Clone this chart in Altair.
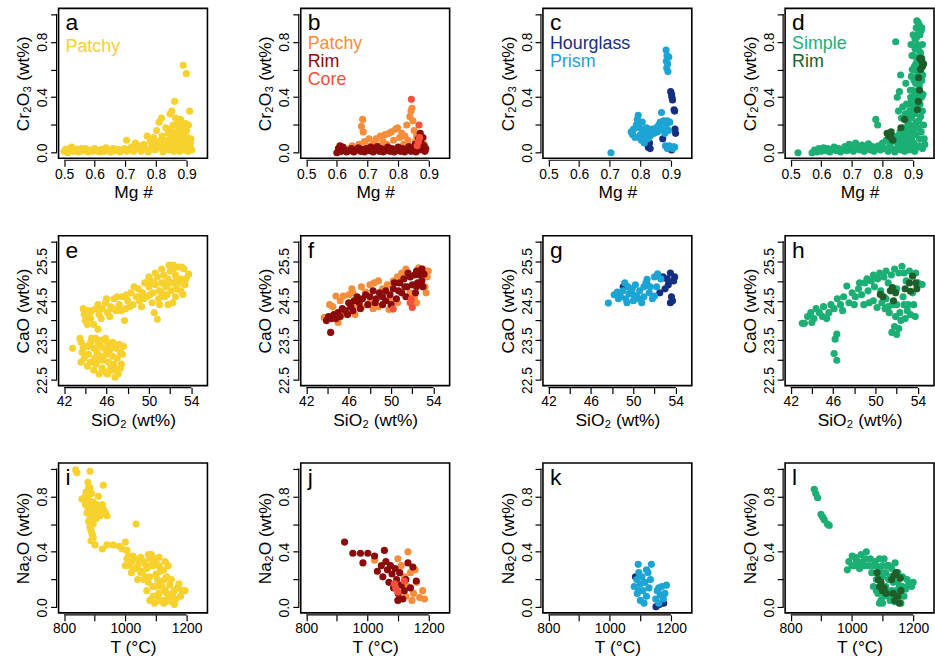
import json
import altair as alt
import pandas as pd

FONT = "Liberation Sans"
W, H = 150, 151
OFF = 2
PT = 52

YEL = "#F7D12E"
ORG = "#F68D3A"
DRED = "#8B0A0A"
CORE = "#F4503B"
NAVY = "#152F80"
LBLU = "#1CA4D4"
GRN = "#1BAF74"
DGRN = "#1E5E28"

# ---------------- axis definitions ----------------
mg_ticks = [0.5, 0.6, 0.7, 0.8, 0.9]
mg_labels = [0.5, 0.6, 0.7, 0.8, 0.9]
cr_ticks = [0.0, 0.2, 0.4, 0.6, 0.8, 1.0]
cr_labels = [0.0, 0.4, 0.8]
si_ticks = [42, 44, 46, 48, 50, 52, 54]
si_labels = [42, 46, 50, 54]
ca_ticks = [22.5, 23.0, 23.5, 24.0, 24.5, 25.0, 25.5, 26.0]
ca_labels = [22.5, 23.5, 24.5, 25.5]
t_ticks = [800, 900, 1000, 1100, 1200]
t_labels = [800, 1000, 1200]
na_ticks = [0.0, 0.2, 0.4, 0.6, 0.8, 1.0]
na_labels = [0.0, 0.4, 0.8]

AX_MG = dict(domain=[0.482, 0.968], ticks=mg_ticks, labels=mg_labels, fmt=".1f", title="Mg #")
AX_CR = dict(domain=[-0.04, 1.04], ticks=cr_ticks, labels=cr_labels, fmt=".1f", title="Cr₂O₃ (wt%)")
AX_SI = dict(domain=[41.48, 55.52], ticks=si_ticks, labels=si_labels, fmt=".0f", title="SiO₂ (wt%)")
AX_CA = dict(domain=[22.36, 26.14], ticks=ca_ticks, labels=ca_labels, fmt=".1f", title="CaO (wt%)")
AX_T = dict(domain=[782, 1268], ticks=t_ticks, labels=t_labels, fmt=".0f", title="T (°C)")
AX_NA = dict(domain=[-0.04, 1.04], ticks=na_ticks, labels=na_labels, fmt=".1f", title="Na₂O (wt%)")

# ---------------- data ----------------
a_patchy = [(0.500,0.010),(0.505,0.025),(0.512,0.000),(0.518,0.030),(0.525,0.040),(0.530,0.010),(0.540,0.025),(0.548,0.005),(0.556,0.030),(0.563,0.015),(0.570,0.030),(0.578,0.005),(0.585,0.020),(0.593,0.010),(0.600,0.030),(0.608,0.015),(0.615,0.005),(0.622,0.025),(0.630,0.010),(0.637,0.035),(0.645,0.015),(0.652,0.005),(0.660,0.030),(0.667,0.015),(0.675,0.025),(0.682,0.005),(0.690,0.020),(0.697,0.030),(0.704,0.090),(0.705,0.010),(0.712,0.025),(0.720,0.040),(0.727,0.010),(0.733,0.070),(0.740,0.030),(0.748,0.050),(0.752,0.010),(0.760,0.060),(0.766,0.030),(0.771,0.120),(0.775,0.005),(0.782,0.080),(0.786,0.040),(0.792,0.110),(0.797,0.020),(0.802,0.160),(0.804,0.060),(0.810,0.220),(0.812,0.035),(0.818,0.250),(0.820,0.120),(0.823,0.005),(0.828,0.080),(0.832,0.180),(0.836,0.040),(0.840,0.140),(0.843,0.020),(0.846,0.280),(0.849,0.100),(0.852,0.300),(0.853,0.060),(0.856,0.200),(0.858,0.010),(0.861,0.370),(0.862,0.150),(0.864,0.250),(0.866,0.040),(0.868,0.100),(0.871,0.210),(0.873,0.070),(0.876,0.180),(0.877,0.010),(0.880,0.240),(0.881,0.130),(0.884,0.050),(0.887,0.200),(0.889,0.630),(0.890,0.090),(0.892,0.020),(0.895,0.150),(0.897,0.210),(0.899,0.570),(0.900,0.060),(0.903,0.110),(0.905,0.010),(0.907,0.080),(0.910,0.300),(0.911,0.040),(0.914,0.100),(0.917,0.020),
            (0.826,0.050),(0.838,0.090),(0.845,0.170),(0.858,0.120),(0.870,0.150),(0.878,0.090),(0.885,0.170),(0.893,0.120),(0.900,0.160),(0.906,0.200),(0.912,0.070),(0.860,0.030),(0.872,0.040),(0.888,0.040),(0.815,0.090),(0.798,0.080)]

b_patchy = [(0.640,0.030),(0.650,0.050),(0.660,0.020),(0.672,0.060),(0.680,0.190),(0.684,0.240),(0.686,0.150),(0.690,0.080),(0.698,0.050),(0.705,0.100),(0.712,0.040),(0.720,0.070),(0.728,0.100),(0.735,0.050),(0.742,0.120),(0.750,0.080),(0.757,0.130),(0.763,0.060),(0.770,0.140),(0.778,0.150),(0.785,0.090),(0.792,0.170),(0.798,0.180),(0.805,0.110),(0.812,0.140),(0.818,0.060),(0.822,0.120),(0.828,0.200),(0.832,0.090),(0.838,0.260),(0.842,0.300),(0.845,0.320),(0.848,0.230),(0.852,0.160),(0.856,0.080),(0.860,0.120),(0.865,0.050),(0.872,0.090),(0.878,0.030),(0.885,0.060),(0.890,0.020)]
b_rim = [(0.600,0.000),(0.605,0.030),(0.610,0.050),(0.615,0.010),(0.620,0.040),(0.625,0.020),(0.632,0.005),(0.640,0.015),(0.648,0.030),(0.655,0.005),(0.662,0.020),(0.670,0.035),(0.677,0.010),(0.684,0.025),(0.690,0.005),(0.697,0.030),(0.704,0.015),(0.711,0.040),(0.718,0.005),(0.725,0.025),(0.732,0.045),(0.738,0.010),(0.745,0.030),(0.752,0.005),(0.759,0.020),(0.766,0.040),(0.773,0.010),(0.780,0.030),(0.787,0.005),(0.794,0.020),(0.800,0.040),(0.807,0.010),(0.814,0.030),(0.821,0.005),(0.828,0.025),(0.835,0.045),(0.842,0.010),(0.849,0.030),(0.855,0.060),(0.858,0.005),(0.862,0.040),(0.866,0.100),(0.869,0.020),(0.872,0.140),(0.875,0.070),(0.878,0.030),(0.881,0.110),(0.884,0.050),(0.887,0.010),(0.890,0.030)]
b_core = [(0.843,0.385),(0.868,0.200),(0.866,0.080),(0.862,0.050),(0.870,0.110)]

c_hourglass = [(0.826,0.040),(0.830,0.070),(0.832,0.030),(0.873,0.100),(0.899,0.440),(0.902,0.420),(0.903,0.400),(0.905,0.380),(0.910,0.310),(0.912,0.300),(0.913,0.170),(0.915,0.140),(0.908,0.040),(0.902,0.020),(0.895,0.030)]
c_prism = [(0.704,0.000),(0.770,0.150),(0.775,0.130),(0.778,0.170),(0.783,0.110),(0.787,0.200),(0.790,0.240),(0.793,0.270),(0.797,0.180),(0.800,0.130),(0.803,0.090),(0.806,0.220),(0.810,0.160),(0.813,0.070),(0.816,0.120),(0.820,0.180),(0.824,0.100),(0.828,0.150),(0.832,0.120),(0.838,0.170),(0.845,0.140),(0.852,0.180),(0.856,0.150),(0.860,0.200),(0.865,0.220),(0.869,0.290),(0.872,0.170),(0.876,0.230),(0.880,0.140),(0.884,0.190),(0.888,0.230),(0.892,0.160),(0.896,0.220),(0.884,0.740),(0.887,0.700),(0.885,0.660),(0.889,0.640),(0.886,0.610),(0.890,0.585),(0.893,0.690),(0.882,0.050),(0.888,0.030),(0.894,0.050),(0.900,0.040),(0.906,0.030),(0.912,0.040)]

d_simple = [(0.524,0.000),(0.570,0.000),(0.578,0.020),(0.585,0.005),(0.592,0.030),(0.600,0.010),(0.607,0.035),(0.614,0.015),(0.621,0.030),(0.628,0.005),(0.635,0.025),(0.642,0.040),(0.649,0.015),(0.656,0.030),(0.663,0.005),(0.670,0.025),(0.677,0.045),(0.684,0.015),(0.691,0.060),(0.698,0.030),(0.705,0.010),(0.712,0.070),(0.719,0.040),(0.726,0.020),(0.733,0.055),(0.740,0.010),(0.747,0.040),(0.754,0.065),(0.760,0.020),(0.767,0.045),(0.772,0.010),(0.778,0.240),(0.784,0.200),(0.786,0.050),(0.793,0.020),(0.800,0.070),(0.806,0.030),(0.812,0.090),(0.818,0.010),(0.824,0.060),(0.830,0.030),(0.836,0.120),(0.840,0.005),(0.843,0.800),(0.845,0.080),(0.848,0.400),(0.850,0.040),(0.852,0.300),(0.855,0.440),(0.857,0.150),(0.859,0.560),(0.860,0.020),(0.862,0.250),(0.864,0.090),(0.866,0.330),(0.868,0.050),(0.870,0.180),(0.872,0.010),(0.874,0.280),(0.876,0.500),(0.877,0.120),(0.880,0.060),(0.882,0.220),(0.884,0.020),(0.886,0.350),(0.888,0.150),(0.890,0.050),(0.891,0.450),(0.893,0.780),(0.894,0.250),(0.895,0.100),(0.897,0.600),(0.898,0.020),(0.899,0.360),(0.900,0.170),(0.901,0.700),(0.902,0.070),(0.903,0.520),(0.904,0.280),(0.905,0.010),(0.906,0.820),(0.907,0.420),(0.908,0.130),(0.909,0.640),(0.910,0.220),(0.911,0.830),(0.912,0.040),(0.913,0.330),(0.914,0.560),(0.915,0.900),(0.916,0.940),(0.917,0.180),(0.918,0.740),(0.920,0.480),(0.921,0.100),(0.922,0.850),(0.924,0.260),(0.926,0.880),(0.927,0.400),(0.928,0.680),(0.930,0.030),(0.931,0.560),
            (0.888,0.300),(0.890,0.200),(0.892,0.400),(0.894,0.550),(0.896,0.700),(0.898,0.450),(0.900,0.850),(0.902,0.320),(0.904,0.620),(0.906,0.750),(0.908,0.500),(0.910,0.900),(0.912,0.680),(0.914,0.780),(0.916,0.450),(0.918,0.230),(0.920,0.620),(0.922,0.350),(0.924,0.720),(0.926,0.150),(0.928,0.520),(0.930,0.300),(0.932,0.420),(0.934,0.200),(0.936,0.100),(0.938,0.060),(0.905,0.600),(0.895,0.380),(0.900,0.280),(0.910,0.400),(0.915,0.650),(0.920,0.050),(0.925,0.580),(0.930,0.780),(0.928,0.900),(0.920,0.920),(0.912,0.950),(0.918,0.860),(0.924,0.400),(0.904,0.180),(0.896,0.120),(0.886,0.080),(0.880,0.160),(0.874,0.070),(0.868,0.130),(0.862,0.100),(0.856,0.060),(0.850,0.120),(0.884,0.270),(0.878,0.350)]
d_rim = [(0.815,0.140),(0.820,0.120),(0.826,0.130),(0.830,0.100),(0.834,0.090),(0.828,0.150),(0.860,0.180),(0.872,0.240),(0.914,0.310),(0.917,0.370),(0.921,0.450),(0.918,0.540),(0.924,0.600),(0.928,0.660),(0.922,0.680),(0.934,0.640),(0.930,0.620),(0.926,0.680)]

e_patchy = [(42.8,23.30),(43.5,23.55),(43.6,23.45),(43.7,23.20),(43.6,22.95),(43.9,23.05),(44.2,22.85),(44.0,23.35),(44.3,23.15),(44.5,23.45),(44.6,23.55),(44.8,23.30),(44.9,23.05),(45.0,22.90),(45.1,23.20),(45.2,23.45),(45.4,23.35),(45.5,23.10),(45.6,22.80),(45.7,23.00),(45.8,23.30),(45.9,22.70),(46.0,23.15),(46.1,23.45),(46.2,22.95),(46.3,23.25),(46.4,22.80),(46.5,23.40),(46.6,23.10),(46.7,22.90),(46.8,22.57),(46.9,23.30),(47.0,23.05),(47.1,22.65),(47.2,23.40),(47.3,23.20),(47.5,23.15),(47.4,22.90),(45.3,22.65),(46.5,22.75),
            (44.5,22.95),(44.8,22.75),(45.3,23.00),(45.5,23.50),(45.9,23.55),(46.2,23.30),(46.6,23.45),(46.9,22.75),(47.3,22.80),(47.6,23.35),(44.3,23.35),(43.8,23.30),(45.0,23.55),(46.1,22.65),
            (43.8,24.30),(43.9,24.15),(44.0,24.00),(44.2,23.90),(44.5,24.05),(44.8,23.90),(45.2,23.78),(44.6,24.25),(45.0,24.30),(45.3,24.15),(45.6,24.30),(45.9,24.45),(46.1,24.20),(46.4,24.35),(46.7,24.55),(46.9,24.25),(47.2,24.40),(47.5,24.60),(47.7,24.00),(47.8,24.30),(48.0,24.50),(48.3,24.70),(48.5,24.40),(48.8,24.60),(49.0,24.80),(49.1,24.50),(49.4,24.70),(49.6,24.95),(49.8,24.60),(50.0,24.85),(50.2,25.00),(50.4,24.70),(50.5,24.20),(50.6,24.90),(50.8,24.03),(50.8,25.10),(51.0,24.75),(51.2,24.95),(51.4,25.15),(51.5,24.60),(51.6,24.85),(51.8,25.05),(52.0,25.25),(52.1,24.75),(52.25,24.45),(52.3,24.95),(52.5,25.15),(52.6,24.80),(52.8,25.35),(53.0,25.05),(53.2,24.66),(53.3,25.30),(53.4,24.90),(53.75,25.17),(53.1,25.35),(50.3,24.45),(49.3,24.35),(51.0,24.40),
            (44.2,24.25),(44.4,24.10),(45.2,24.40),(45.5,24.05),(46.0,24.55),(46.3,24.10),(46.6,24.30),(47.0,24.60),(47.4,24.25),(47.9,24.65),(48.2,24.35),(48.6,24.85),(49.0,24.60),(49.5,24.55),(49.8,24.95),(50.1,24.65),(50.5,24.95),(50.9,24.55),(51.2,24.70),(51.4,24.95),(51.7,24.65),(52.0,24.95),(52.3,25.25),(52.6,25.05),(52.9,24.95),(53.0,24.75),(53.5,25.05),(51.8,24.40),(52.5,24.60),(50.0,25.10),(50.6,25.20),(51.2,25.30),(51.9,25.40),(52.3,25.40)]

f_patchy = [(43.7,24.08),(44.5,24.35),(44.8,24.62),(45.2,24.50),(45.6,24.16),(46.0,24.65),(46.4,24.70),(46.8,24.40),(47.2,24.33),(47.6,24.72),(48.0,24.45),(48.4,24.95),(48.8,24.35),(49.2,24.80),(49.65,24.90),(49.8,24.28),(50.2,25.00),(50.6,24.45),(51.0,25.20),(51.4,25.30),(51.8,24.70),(52.2,24.58),(52.6,25.33),(52.9,25.20),(53.2,24.85),(53.4,25.10),(53.0,25.30),(50.0,24.50),(52.4,24.45),
            (44.2,24.40),(45.5,24.62),(46.3,24.80),(47.2,24.85),(48.0,24.90),(48.8,25.00),(50.6,25.10),(53.5,25.25),(53.3,24.70),(46.6,24.15),(45.0,23.95),(48.3,24.30)]
f_rim = [(43.9,24.00),(44.1,24.10),(44.3,23.70),(44.4,24.05),(44.6,24.15),(45.0,24.20),(45.4,24.30),(45.7,24.25),(46.0,24.45),(46.2,24.35),(46.5,24.50),(46.8,24.60),(47.0,24.45),(47.3,24.55),(47.6,24.65),(48.0,24.60),(48.3,24.75),(48.6,24.55),(48.9,24.70),(49.2,24.60),(49.5,24.75),(49.9,24.65),(50.2,24.80),(50.5,24.55),(50.8,24.95),(51.0,24.70),(51.2,25.05),(51.5,24.85),(51.8,25.10),(52.0,24.90),(52.2,25.15),(52.5,24.95),(52.7,25.15),(52.9,25.00),(53.1,25.17),(51.4,24.60),(52.3,24.70),(50.3,24.95),(49.5,24.50),
         (44.8,24.05),(45.2,24.10),(45.9,24.15),(46.4,24.25),(47.1,24.30),(47.8,24.40),(48.5,24.45),(49.2,24.40),(50.0,24.40),(50.7,24.75),(51.3,24.85),(52.4,24.85),(53.0,24.85),(51.6,25.20),(52.4,25.25),(52.9,25.30)]
f_core = [(50.2,24.29),(51.9,24.54),(52.0,24.33),(51.8,24.45)]

g_hourglass = [(49.05,24.85),(51.3,24.90),(52.5,24.70),(53.0,24.80),(53.3,24.90),(53.5,25.20),(53.8,25.00),(53.9,25.10),(53.6,24.60),(53.7,24.50),(53.5,24.45),(53.2,25.05),(52.8,25.10)]
g_prism = [(47.65,24.44),(48.2,24.65),(48.5,24.72),(48.8,24.60),(49.0,24.75),(49.3,24.55),(49.6,24.68),(49.9,24.80),(50.0,24.50),(50.3,24.62),(50.6,24.75),(50.8,24.45),(51.0,24.60),(51.2,24.95),(51.3,25.04),(51.5,24.70),(51.8,24.55),(52.0,25.10),(52.3,25.18),(52.6,25.05),(50.2,24.90),(49.5,24.85),(52.0,24.62),
           (48.6,24.55),(49.4,24.45),(50.5,24.55),(51.0,24.85),(51.6,24.85),(52.2,24.85),(50.0,24.65),(49.2,24.95)]

h_simple = [(43.1,23.93),(43.3,23.93),(43.6,24.10),(43.9,24.20),(44.2,24.05),(44.4,24.30),(44.7,24.20),(45.0,24.10),(45.1,24.35),(45.6,24.20),(45.8,24.40),(46.1,24.30),(46.4,24.55),(46.7,24.40),(47.0,24.60),(47.3,24.87),(47.5,24.45),(47.8,24.70),(48.1,24.60),(48.4,24.80),(48.7,24.65),(49.0,24.95),(49.3,24.75),(49.6,25.00),(49.9,24.85),(50.15,24.33),(50.2,25.05),(50.5,24.75),(50.8,25.10),(51.0,24.55),(51.2,24.95),(51.5,25.15),(51.6,24.40),(51.55,23.70),(51.8,23.85),(52.0,24.80),(52.0,23.65),(52.2,25.20),(52.3,24.20),(52.5,25.37),(52.6,24.60),(52.8,24.05),(52.9,25.00),(53.1,24.40),(53.3,24.15),(53.5,24.70),(53.75,24.10),(54.0,24.95),(54.4,24.91),(53.8,25.20),(46.2,23.53),(46.35,23.66),(46.1,23.17),(46.35,23.00),(50.8,24.60),(49.8,24.50),
            (48.5,24.95),(49.2,25.05),(49.8,25.15),(50.4,25.20),(51.0,25.25),(51.8,25.30),(52.7,25.20),(53.2,25.25),(50.9,24.30),(51.3,24.20),(52.0,24.40),(52.4,24.00),(53.0,24.25),(53.6,24.40),(52.7,24.40),(51.9,24.10),(49.4,24.45),(48.9,24.40),(48.0,24.40),(46.9,24.25),(45.4,24.05),(44.0,23.95),(52.2,23.80),(50.6,24.45),(51.2,24.35)]
h_rim = [(50.46,24.66),(50.7,24.60),(51.4,24.75),(51.6,24.83),(51.7,24.50),(51.9,24.70),(52.8,24.80),(53.2,24.95),(53.5,25.12),(53.8,24.95),(53.9,24.80),(53.3,24.74)]

i_patchy = [(838,0.99),(842,0.97),(885,0.98),(858,0.78),(928,0.88),(878,0.90),(885,0.86),(872,0.83),(890,0.82),(878,0.78),(895,0.76),(870,0.74),(885,0.72),(900,0.70),(875,0.68),(890,0.66),(905,0.64),(880,0.62),(895,0.60),(887,0.56),(893,0.52),(888,0.48),(901,0.45),(912,0.80),(918,0.72),(930,0.70),(940,0.66),(925,0.42),(940,0.45),(960,0.45),(980,0.44),(990,0.42),(1000,0.47),(1005,0.41),(1035,0.60),(1005,0.35),(1015,0.30),(1025,0.37),(1035,0.28),(1045,0.34),(1055,0.26),(1065,0.31),(1075,0.38),(1080,0.22),(1085,0.30),(1090,0.15),(1095,0.35),(1100,0.24),(1105,0.09),(1110,0.30),(1115,0.18),(1120,0.05),(1125,0.27),(1130,0.12),(1135,0.22),(1140,0.07),(1145,0.16),(1155,0.10),(1160,0.02),(1170,0.14),(1180,0.08),(1195,0.12),(1060,0.20),(1095,0.03),(1070,0.12),(1150,0.04),(1000,0.30),
            (1010,0.37),(1020,0.33),(1030,0.35),(1040,0.30),(1050,0.36),(1060,0.33),(1070,0.28),(1080,0.35),(1085,0.38),(1090,0.30),(1090,0.08),(1100,0.33),(1100,0.15),(1105,0.20),(1110,0.10),(1115,0.26),(1120,0.15),(1125,0.03),(1128,0.20),(1135,0.10),(1140,0.30),(1145,0.08),(1150,0.20),(1160,0.12),(1165,0.06),(1175,0.17),(1185,0.12),(1080,0.05),(1110,0.05),(1130,0.04),(1075,0.18),(1065,0.22),(1050,0.25),(1020,0.25),(1040,0.20),(1110,0.36),(1130,0.33),
            (870,0.80),(882,0.76),(878,0.70),(892,0.72),(885,0.64),(898,0.66),(884,0.58),(890,0.54),(895,0.50),(880,0.86),(905,0.74),(918,0.66),(925,0.74),(910,0.68),(935,0.68)]

j_patchy = [(1023,0.34),(1099,0.35),(1132,0.40),(1110,0.30),(1120,0.22),(1130,0.15),(1140,0.25),(1150,0.10),(1160,0.18),(1170,0.07),(1180,0.12),(1145,0.05),(1125,0.08),(1105,0.06),(1186,0.06),(1155,0.27)]
j_rim = [(925,0.47),(952,0.39),(977,0.39),(985,0.32),(1001,0.39),(1023,0.37),(1032,0.26),(1055,0.41),(1045,0.30),(1060,0.33),(1050,0.22),(1065,0.27),(1070,0.18),(1075,0.30),(1080,0.24),(1085,0.14),(1090,0.28),(1095,0.20),(1100,0.10),(1105,0.25),(1110,0.16),(1115,0.06),(1120,0.12),(1125,0.20),(1132,0.32),(1148,0.29),(1159,0.19),(1099,0.05),(1140,0.14)]
j_core = [(1088,0.17),(1120,0.19),(1099,0.11),(1092,0.14)]

k_hourglass = [(1084,0.22),(1151,0.005),(1176,0.03),(1162,0.02)]
k_prism = [(1093,0.31),(1136,0.31),(1080,0.15),(1088,0.20),(1090,0.10),(1095,0.25),(1100,0.05),(1100,0.17),(1105,0.22),(1108,0.12),(1112,0.03),(1115,0.18),(1120,0.08),(1125,0.25),(1128,0.14),(1133,0.20),(1120,0.27),(1095,0.12),(1150,0.06),(1155,0.12),(1160,0.03),(1165,0.09),(1170,0.15),(1175,0.06),(1180,0.10),(1185,0.16),(1160,0.14)]

l_simple = [(877,0.85),(882,0.82),(888,0.79),(899,0.67),(905,0.65),(910,0.63),(920,0.60),(926,0.59),(985,0.27),(990,0.33),(1001,0.37),(1005,0.30),(1015,0.34),(1025,0.28),(1035,0.33),(1047,0.40),(1055,0.30),(1065,0.25),(1075,0.33),(1080,0.20),(1085,0.10),(1090,0.28),(1095,0.05),(1100,0.22),(1105,0.35),(1110,0.15),(1115,0.30),(1120,0.08),(1125,0.22),(1130,0.12),(1141,0.32),(1140,0.04),(1150,0.18),(1160,0.08),(1165,0.22),(1175,0.13),(1185,0.16),(1200,0.18),(1070,0.15),(1090,0.03),
            (1080,0.30),(1090,0.35),(1095,0.25),(1100,0.30),(1105,0.08),(1110,0.25),(1115,0.12),(1120,0.30),(1125,0.05),(1130,0.28),(1135,0.18),(1145,0.12),(1155,0.15),(1165,0.15),(1170,0.08),(1180,0.20),(1195,0.15),(1000,0.30),(1010,0.36),(1020,0.30),(1030,0.38),(1040,0.30),(1060,0.35),(1070,0.30),(1045,0.35),(1080,0.12),(1100,0.03),(1120,0.20),(1150,0.25),(1160,0.03)]
l_rim = [(1082,0.25),(1086,0.20),(1090,0.15),(1095,0.18),(1100,0.12),(1105,0.14),(1112,0.10),(1130,0.20),(1138,0.23),(1145,0.25),(1158,0.21),(1135,0.10),(1140,0.05),(1150,0.08),(1160,0.12),(1155,0.03)]

# ---------------- panel builder ----------------
def label_expr(vals):
    return "indexof(%s, datum.value) >= 0 ? datum.label : ''" % json.dumps(vals)


def make_axes(xc, yc):
    xa = alt.Axis(values=xc["ticks"], format=xc["fmt"], labelExpr=label_expr(xc["labels"]), title=xc["title"])
    ya = alt.Axis(values=yc["ticks"], format=yc["fmt"], labelExpr=label_expr(yc["labels"]), title=yc["title"],
                  labelAngle=270, labelAlign="center", labelBaseline="bottom")
    return xa, ya


def panel(series, xc, yc, letter, legend=None, legend_y0=41):
    rows = []
    for k, (name, color, pts) in enumerate(series):
        for (x, y) in pts:
            rows.append({"x": x, "y": y, "s": name, "c": color, "k": k})
    df = pd.DataFrame(rows)
    xs = alt.Scale(domain=xc["domain"], nice=False, zero=False)
    ys = alt.Scale(domain=yc["domain"], nice=False, zero=False)
    xa, ya = make_axes(xc, yc)
    let = alt.Chart(pd.DataFrame({"t": [letter]})).mark_text(
        align="left", baseline="alphabetic", fontSize=23, font=FONT, color="black").encode(
        x=alt.value(7), y=alt.value(22), text="t:N")
    pts = alt.Chart(df).mark_circle(size=PT, opacity=1).encode(
        x=alt.X("x:Q", scale=xs, axis=xa),
        y=alt.Y("y:Q", scale=ys, axis=ya),
        color=alt.Color("c:N", scale=None),
        order=alt.Order("k:Q"),
    )
    xline = alt.Chart(pd.DataFrame({"x": [xc["ticks"][0]], "x2": [xc["ticks"][-1]]})).mark_rule(
        color="black", strokeWidth=1.2).encode(
        x=alt.X("x:Q", scale=xs, axis=xa), x2="x2:Q", y=alt.value(H + OFF))
    yline = alt.Chart(pd.DataFrame({"y": [yc["ticks"][0]], "y2": [yc["ticks"][-1]]})).mark_rule(
        color="black", strokeWidth=1.2).encode(
        y=alt.Y("y:Q", scale=ys, axis=ya), y2="y2:Q", x=alt.value(-OFF))
    layers = [let, pts, xline, yline]
    if legend:
        for i, (name, color) in enumerate(legend):
            layers.append(alt.Chart(pd.DataFrame({"t": [name]})).mark_text(
                align="left", baseline="alphabetic", fontSize=18, font=FONT, color=color).encode(
                x=alt.value(7), y=alt.value(legend_y0 + 18 * i), text="t:N"))
    return alt.layer(*layers).properties(width=W, height=H)


panels = [
    panel([("Patchy", YEL, a_patchy)], AX_MG, AX_CR, "a", [("Patchy", YEL)], 44),
    panel([("Patchy", ORG, b_patchy), ("Rim", DRED, b_rim), ("Core", CORE, b_core)], AX_MG, AX_CR, "b",
          [("Patchy", ORG), ("Rim", DRED), ("Core", CORE)]),
    panel([("Hourglass", NAVY, c_hourglass), ("Prism", LBLU, c_prism)], AX_MG, AX_CR, "c",
          [("Hourglass", NAVY), ("Prism", LBLU)]),
    panel([("Simple", GRN, d_simple), ("Rim", DGRN, d_rim)], AX_MG, AX_CR, "d",
          [("Simple", GRN), ("Rim", DGRN)]),
    panel([("Patchy", YEL, e_patchy)], AX_SI, AX_CA, "e"),
    panel([("Patchy", ORG, f_patchy), ("Rim", DRED, f_rim), ("Core", CORE, f_core)], AX_SI, AX_CA, "f"),
    panel([("Hourglass", NAVY, g_hourglass), ("Prism", LBLU, g_prism)], AX_SI, AX_CA, "g"),
    panel([("Simple", GRN, h_simple), ("Rim", DGRN, h_rim)], AX_SI, AX_CA, "h"),
    panel([("Patchy", YEL, i_patchy)], AX_T, AX_NA, "i"),
    panel([("Patchy", ORG, j_patchy), ("Rim", DRED, j_rim), ("Core", CORE, j_core)], AX_T, AX_NA, "j"),
    panel([("Hourglass", NAVY, k_hourglass), ("Prism", LBLU, k_prism)], AX_T, AX_NA, "k"),
    panel([("Simple", GRN, l_simple), ("Rim", DGRN, l_rim)], AX_T, AX_NA, "l"),
]

chart = alt.concat(*panels, columns=4, spacing={"row": 78, "column": 94}, bounds="flush").configure_view(
    stroke="black", strokeWidth=1.6
).configure_axis(
    domain=False, grid=False, tickColor="black", tickSize=6, tickWidth=1.2, offset=OFF,
    labelFont=FONT, labelFontSize=14, labelColor="black", labelPadding=1,
    labelOverlap=False, labelFlush=False,
    titleFont=FONT, titleFontSize=17.5, titleFontWeight="normal", titleColor="black", titlePadding=3,
).properties(
    padding={"left": 14, "top": 5, "right": 0, "bottom": 0}, background="white"
)

chart.save("out.html", embed_options={"renderer": "svg", "actions": False})
